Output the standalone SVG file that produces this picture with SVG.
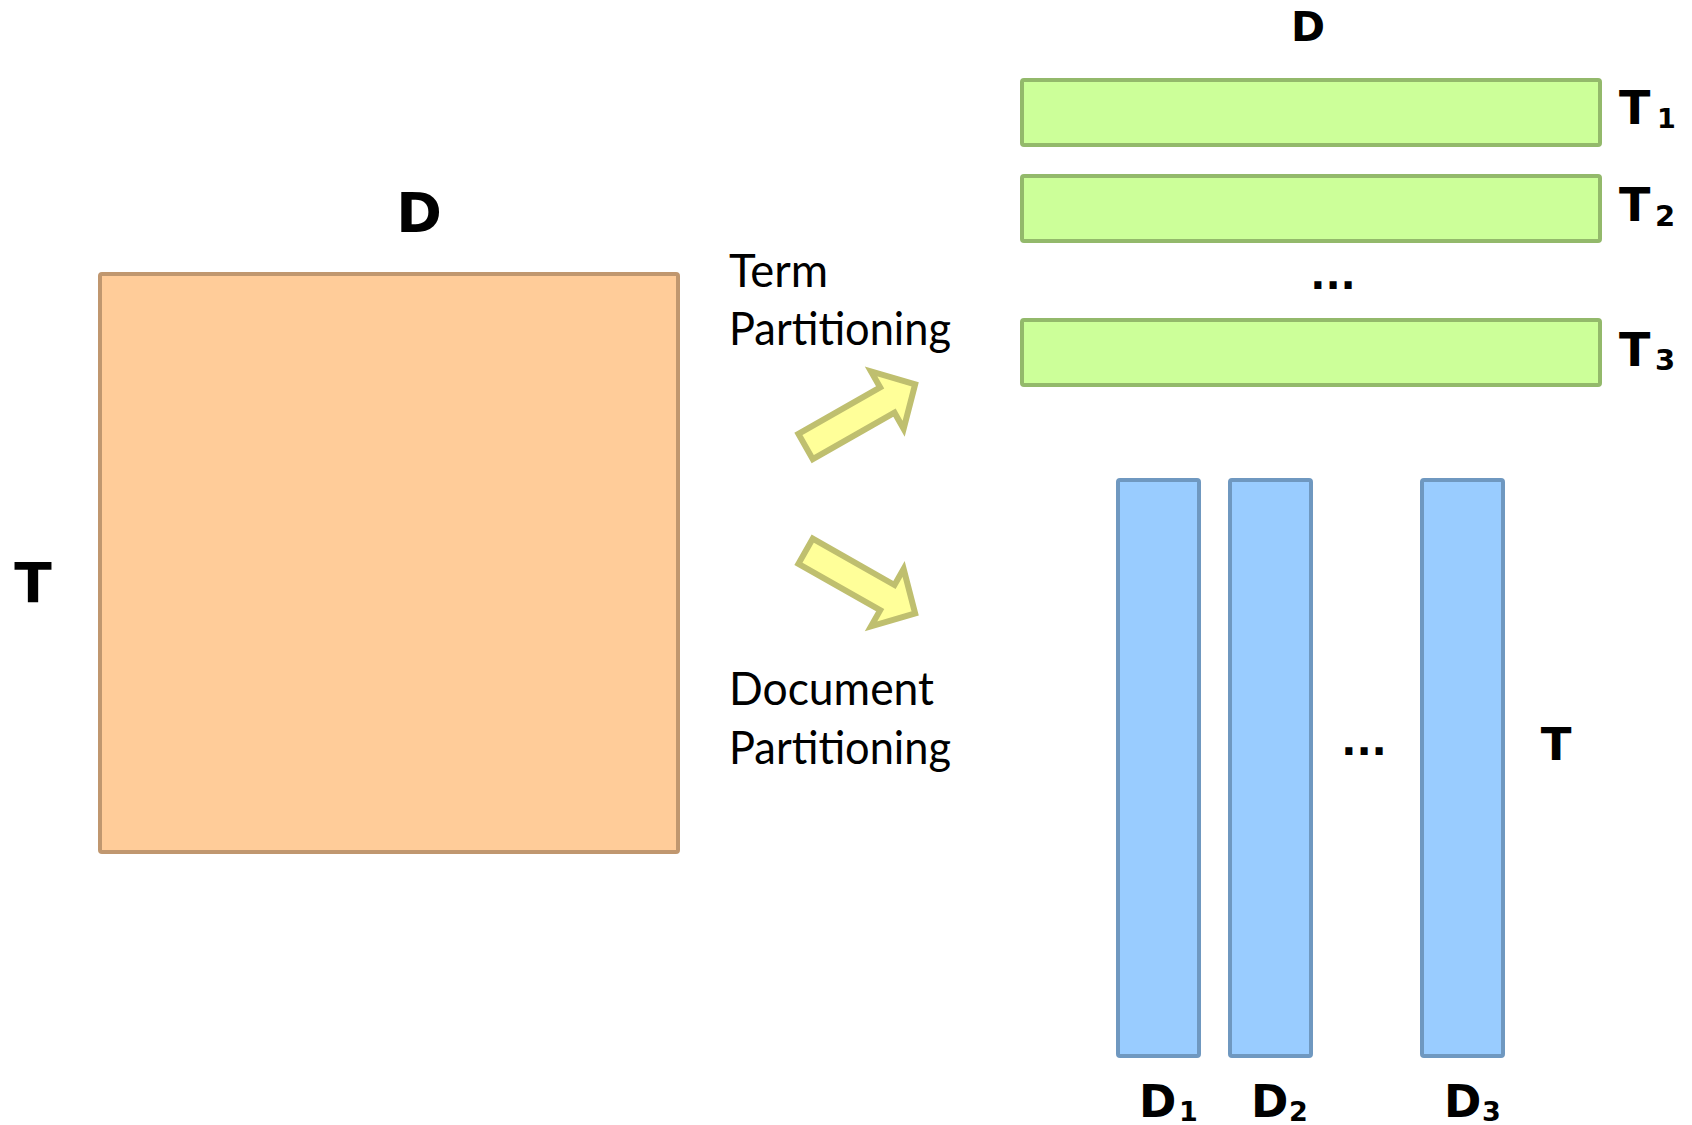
<svg xmlns="http://www.w3.org/2000/svg" width="1692" height="1125" viewBox="0 0 1692 1125">
<style>
.bg{fill:#ffffff}
.big{font-family:"DejaVu Sans","Liberation Sans",sans-serif;font-weight:700;fill:#000}
.reg{font-family:Lato,"Liberation Sans",sans-serif;font-weight:400;fill:#000;font-size:46px}
.orange{fill:#FFCC99;stroke:#C0976F;stroke-width:4}
.green{fill:#CCFF99;stroke:#93B96B;stroke-width:4}
.blue{fill:#99CCFF;stroke:#6F98C0;stroke-width:4}
.arrow{fill:#FFFF99;stroke:#BFBF6F;stroke-width:6;stroke-linejoin:miter}
</style>
<defs>
<polygon id="arr" points="0,-14.5 94,-14.5 94,-33 126,0 94,33 94,14.5 0,14.5"/>
</defs>
<rect class="bg" x="0" y="0" width="1692" height="1125"/>
<g id="matrix">
<rect class="orange" x="100" y="274" width="578" height="578" rx="2"/>
<text class="big" x="419" y="232" font-size="55" text-anchor="middle">D</text>
<text class="big" x="33" y="602" font-size="55" text-anchor="middle">T</text>
</g>
<g id="term-partitions">
<text class="big" x="1308" y="41" font-size="41" text-anchor="middle">D</text>
<g id="t1"><rect class="green" x="1022" y="80" width="578" height="65" rx="2"/>
<text class="big" x="1619" y="124" font-size="46">T</text><text class="big" x="1657" y="128" font-size="27">1</text></g>
<g id="t2"><rect class="green" x="1022" y="176" width="578" height="65" rx="2"/>
<text class="big" x="1619" y="221" font-size="46">T</text><text class="big" x="1655" y="226" font-size="29">2</text></g>
<text class="big" x="1333" y="289" font-size="40" text-anchor="middle">...</text>
<g id="t3"><rect class="green" x="1022" y="320" width="578" height="65" rx="2"/>
<text class="big" x="1619" y="366" font-size="46">T</text><text class="big" x="1655" y="370" font-size="29">3</text></g>
</g>
<g id="doc-partitions">
<g id="d1"><rect class="blue" x="1118" y="480" width="81" height="576" rx="2"/>
<text class="big" x="1139" y="1117" font-size="45">D</text><text class="big" x="1179" y="1121" font-size="27">1</text></g>
<g id="d2"><rect class="blue" x="1230" y="480" width="81" height="576" rx="2"/>
<text class="big" x="1251" y="1117" font-size="45">D</text><text class="big" x="1289" y="1121" font-size="27">2</text></g>
<text class="big" x="1364" y="755" font-size="40" text-anchor="middle">...</text>
<g id="d3"><rect class="blue" x="1422" y="480" width="81" height="576" rx="2"/>
<text class="big" x="1444" y="1117" font-size="45">D</text><text class="big" x="1482" y="1121" font-size="27">3</text></g>
<text class="big" x="1556" y="760" font-size="45" text-anchor="middle">T</text>
</g>
<g id="connectors">
<use href="#arr" class="arrow" transform="translate(805.6,446.5) rotate(-29.6)"/>
<use href="#arr" class="arrow" transform="translate(805.6,551.2) rotate(29.6)"/>
</g>
<g id="labels">
<text class="reg" x="729" y="287" textLength="99" lengthAdjust="spacingAndGlyphs">Term</text>
<text class="reg" x="729" y="345" textLength="222" lengthAdjust="spacingAndGlyphs">Partitioning</text>
<text class="reg" x="729" y="705" textLength="205" lengthAdjust="spacingAndGlyphs">Document</text>
<text class="reg" x="729" y="764" textLength="222" lengthAdjust="spacingAndGlyphs">Partitioning</text>
</g>
</svg>
